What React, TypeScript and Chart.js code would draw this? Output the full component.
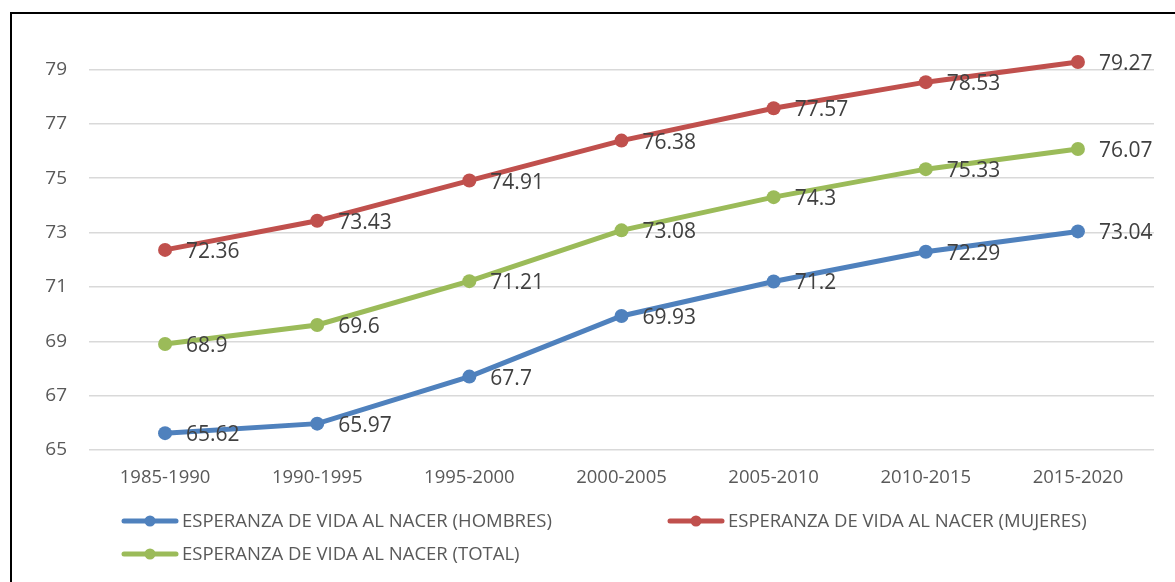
import React, { useEffect, useRef } from "react";
import { Chart, registerables } from "chart.js";

Chart.register(...registerables);

const categories = ["1985-1990", "1990-1995", "1995-2000", "2000-2005", "2005-2010", "2010-2015", "2015-2020"];
const hombres = [65.62, 65.97, 67.7, 69.93, 71.2, 72.29, 73.04];
const mujeres = [72.36, 73.43, 74.91, 76.38, 77.57, 78.53, 79.27];
const total = [68.9, 69.6, 71.21, 73.08, 74.3, 75.33, 76.07];
const yTicks = [65, 67, 69, 71, 73, 75, 77, 79];
const seriesNames = [
  "ESPERANZA DE VIDA AL NACER (HOMBRES)",
  "ESPERANZA DE VIDA AL NACER (MUJERES)",
  "ESPERANZA DE VIDA AL NACER (TOTAL)",
];
const seriesColors = ["#4F81BD", "#C0504D", "#9BBB59"];

const FONT = '"Open Sans", sans-serif';
const W = 1175;
const H = 582;

const framePlugin = {
  id: "frame",
  beforeDraw(chart: any) {
    const ctx = chart.ctx;
    ctx.save();
    ctx.fillStyle = "#ffffff";
    ctx.fillRect(0, 0, W, H);
    ctx.strokeStyle = "#000000";
    ctx.lineWidth = 2;
    ctx.strokeRect(11, 13, W + 20, H + 20);
    ctx.restore();
  },
};

const labelPlugin = {
  id: "valueLabels",
  afterDatasetsDraw(chart: any) {
    const ctx = chart.ctx;
    ctx.save();
    ctx.font = `21px ${FONT}`;
    ctx.fillStyle = "#404040";
    ctx.textAlign = "left";
    ctx.textBaseline = "middle";
    chart.data.datasets.forEach((ds: any, i: number) => {
      const meta = chart.getDatasetMeta(i);
      meta.data.forEach((pt: any, j: number) => {
        ctx.fillText(String(ds.data[j]), pt.x + 21, pt.y + 2);
      });
    });
    ctx.restore();
  },
};

const legendPos = [
  { x: 122, y: 521 },
  { x: 668, y: 521 },
  { x: 122, y: 554 },
];

const legendPlugin = {
  id: "customLegend",
  afterDraw(chart: any) {
    const ctx = chart.ctx;
    ctx.save();
    chart.data.datasets.forEach((ds: any, i: number) => {
      const p = legendPos[i];
      ctx.strokeStyle = ds.borderColor;
      ctx.lineWidth = 5;
      ctx.lineCap = "round";
      ctx.beginPath();
      ctx.moveTo(p.x + 2, p.y);
      ctx.lineTo(p.x + 54, p.y);
      ctx.stroke();
      ctx.fillStyle = ds.borderColor;
      ctx.beginPath();
      ctx.arc(p.x + 28, p.y, 5.5, 0, Math.PI * 2);
      ctx.fill();
      ctx.fillStyle = "#595959";
      ctx.font = `18.5px ${FONT}`;
      ctx.textAlign = "left";
      ctx.textBaseline = "middle";
      ctx.fillText(ds.label, p.x + 60, p.y + 1);
    });
    ctx.restore();
  },
};

export default function App() {
  const ref = useRef<HTMLCanvasElement | null>(null);

  useEffect(() => {
    if (!ref.current) return;
    const makeDs = (label: string, data: number[], color: string) => ({
      label,
      data,
      borderColor: color,
      backgroundColor: color,
      pointBackgroundColor: color,
      pointBorderColor: color,
      pointBorderWidth: 0,
      pointRadius: 7,
      borderWidth: 5,
      tension: 0,
      fill: false,
    });
    const chart = new Chart(ref.current, {
      type: "line",
      data: {
        labels: categories,
        datasets: [
          makeDs(seriesNames[0], hombres, seriesColors[0]),
          makeDs(seriesNames[1], mujeres, seriesColors[1]),
          makeDs(seriesNames[2], total, seriesColors[2]),
        ],
      },
      options: {
        responsive: false,
        animation: false,
        devicePixelRatio: 1,
        layout: { padding: { left: 0, right: 21, top: 15, bottom: 0 } },
        plugins: {
          legend: { display: false },
          tooltip: { enabled: false },
          title: { display: false },
        },
        scales: {
          x: {
            type: "category",
            offset: true,
            grid: { display: false, drawTicks: false },
            border: { display: false },
            ticks: {
              color: "#595959",
              font: { family: FONT, size: 18.5 },
              padding: 17,
              maxRotation: 0,
              autoSkip: false,
            },
            afterFit(scale: any) {
              scale.height = 132;
              scale.paddingLeft = 0;
              scale.paddingRight = 0;
            },
          },
          y: {
            min: 65,
            max: 81,
            grid: { color: "#d9d9d9", lineWidth: 1.5, drawTicks: false },
            border: { display: false },
            ticks: {
              color: "#595959",
              font: { family: FONT, size: 19 },
              padding: 22,
            },
            afterBuildTicks(scale: any) {
              scale.ticks = yTicks.map((v) => ({ value: v }));
            },
            afterFit(scale: any) {
              scale.width = 89;
              scale.paddingTop = 0;
              scale.paddingBottom = 0;
            },
          },
        },
      },
      plugins: [framePlugin, labelPlugin, legendPlugin],
    });
    return () => chart.destroy();
  }, []);

  return (
    <div style={{ position: "fixed", left: 0, top: 0, width: W, height: H }}>
      <canvas ref={ref} width={W} height={H} style={{ width: W, height: H, display: "block" }} />
    </div>
  );
}
